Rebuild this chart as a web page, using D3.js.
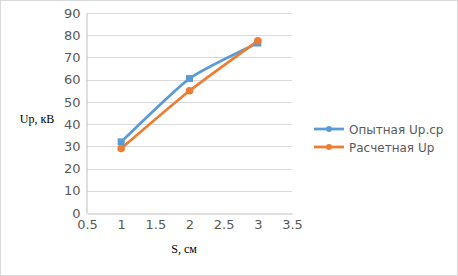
<!DOCTYPE html>
<html>
<head>
<meta charset="utf-8">
<script src="https://cdn.jsdelivr.net/npm/d3@7"></script>
<style>
  body { margin: 0; background: #fff; }
  .tick text { fill: #595959; font-family: "DejaVu Sans", sans-serif; font-size: 13px; }
</style>
</head>
<body>
<script>
// chart values
var sValues = [1, 2, 3];
var upExperimental = [32, 60.5, 76.5];
var upCalculated = [29, 55, 77.5];
var seriesNames = ["Опытная Up.cp", "Расчетная Up"];
var seriesColors = ["#5B9BD5", "#ED7D31"];
var xTicks = [0.5, 1, 1.5, 2, 2.5, 3, 3.5];
var yTicks = [0, 10, 20, 30, 40, 50, 60, 70, 80, 90];

var width = 458,
	height = 276;

var svg = d3.select("body").append("svg")
	.attr("width", width)
	.attr("height", height);

// chart border
svg.append("rect")
	.attr("x", 0.5).attr("y", 0.5)
	.attr("width", width - 1).attr("height", height - 1)
	.attr("fill", "#fff")
	.attr("stroke", "#D9D9D9");

var x = d3.scaleLinear().domain([0.5, 3.5]).range([87, 292]);
var y = d3.scaleLinear().domain([0, 90]).range([213, 13]);

// gridlines
svg.append("g")
	.selectAll("line")
	.data(yTicks.slice(1))
	.enter()
	.append("line")
	.attr("x1", x(0.5)).attr("x2", x(3.5))
	.attr("y1", function(d) { return Math.round(y(d)) + 0.5; })
	.attr("y2", function(d) { return Math.round(y(d)) + 0.5; })
	.attr("stroke", "#D9D9D9");

var xAxis = d3.axisBottom(x).tickValues(xTicks).tickSize(0).tickPadding(6)
	.tickFormat(function(d) { return d; });
var yAxis = d3.axisLeft(y).tickValues(yTicks).tickSize(0).tickPadding(6);

var gx = svg.append("g")
	.attr("transform", "translate(0," + (Math.round(y(0)) + 0.5) + ")")
	.call(xAxis);
gx.select(".domain").attr("stroke", "#BFBFBF");

var gy = svg.append("g")
	.attr("transform", "translate(" + (x(0.5) - 0.5) + ",0)")
	.call(yAxis);
gy.select(".domain").attr("stroke", "#BFBFBF");

// series (smoothed like the source)
var series = [upExperimental, upCalculated];
var line = d3.line()
	.x(function(d, i) { return x(sValues[i]); })
	.y(function(d) { return y(d); })
	.curve(d3.curveCardinal.tension(0.45));

series.forEach(function(vals, si) {
	svg.append("path")
		.datum(vals)
		.attr("d", line)
		.attr("fill", "none")
		.attr("stroke", seriesColors[si])
		.attr("stroke-width", 2.75);
});

// markers
svg.selectAll(".m0")
	.data(upExperimental)
	.enter()
	.append("rect")
	.attr("x", function(d, i) { return x(sValues[i]) - 3.5; })
	.attr("y", function(d) { return y(d) - 3.5; })
	.attr("width", 7).attr("height", 7)
	.attr("fill", seriesColors[0]);

svg.selectAll(".m1")
	.data(upCalculated)
	.enter()
	.append("circle")
	.attr("cx", function(d, i) { return x(sValues[i]); })
	.attr("cy", function(d) { return y(d); })
	.attr("r", 3.8)
	.attr("fill", seriesColors[1]);

// axis titles
svg.append("text")
	.attr("x", 37).attr("y", 123)
	.attr("text-anchor", "middle")
	.attr("font-family", "Liberation Serif, serif")
	.attr("font-size", 12)
	.attr("fill", "#000")
	.text("Up, кВ");

svg.append("text")
	.attr("x", 184).attr("y", 253)
	.attr("text-anchor", "middle")
	.attr("font-family", "Liberation Serif, serif")
	.attr("font-size", 12)
	.attr("fill", "#000")
	.text("S, см");

// legend
var legend = svg.append("g");
seriesNames.forEach(function(name, i) {
	var ly = 129 + i * 18;
	legend.append("line")
		.attr("x1", 314).attr("x2", 344)
		.attr("y1", ly).attr("y2", ly)
		.attr("stroke", seriesColors[i])
		.attr("stroke-width", 2.75);
	legend.append("circle")
		.attr("cx", 329).attr("cy", ly).attr("r", 3)
		.attr("fill", seriesColors[i]);
	legend.append("text")
		.attr("x", 349).attr("y", ly + 4.5)
		.attr("font-family", "DejaVu Sans, sans-serif")
		.attr("font-size", 12)
		.attr("fill", "#595959")
		.text(name);
});
</script>
</body>
</html>
